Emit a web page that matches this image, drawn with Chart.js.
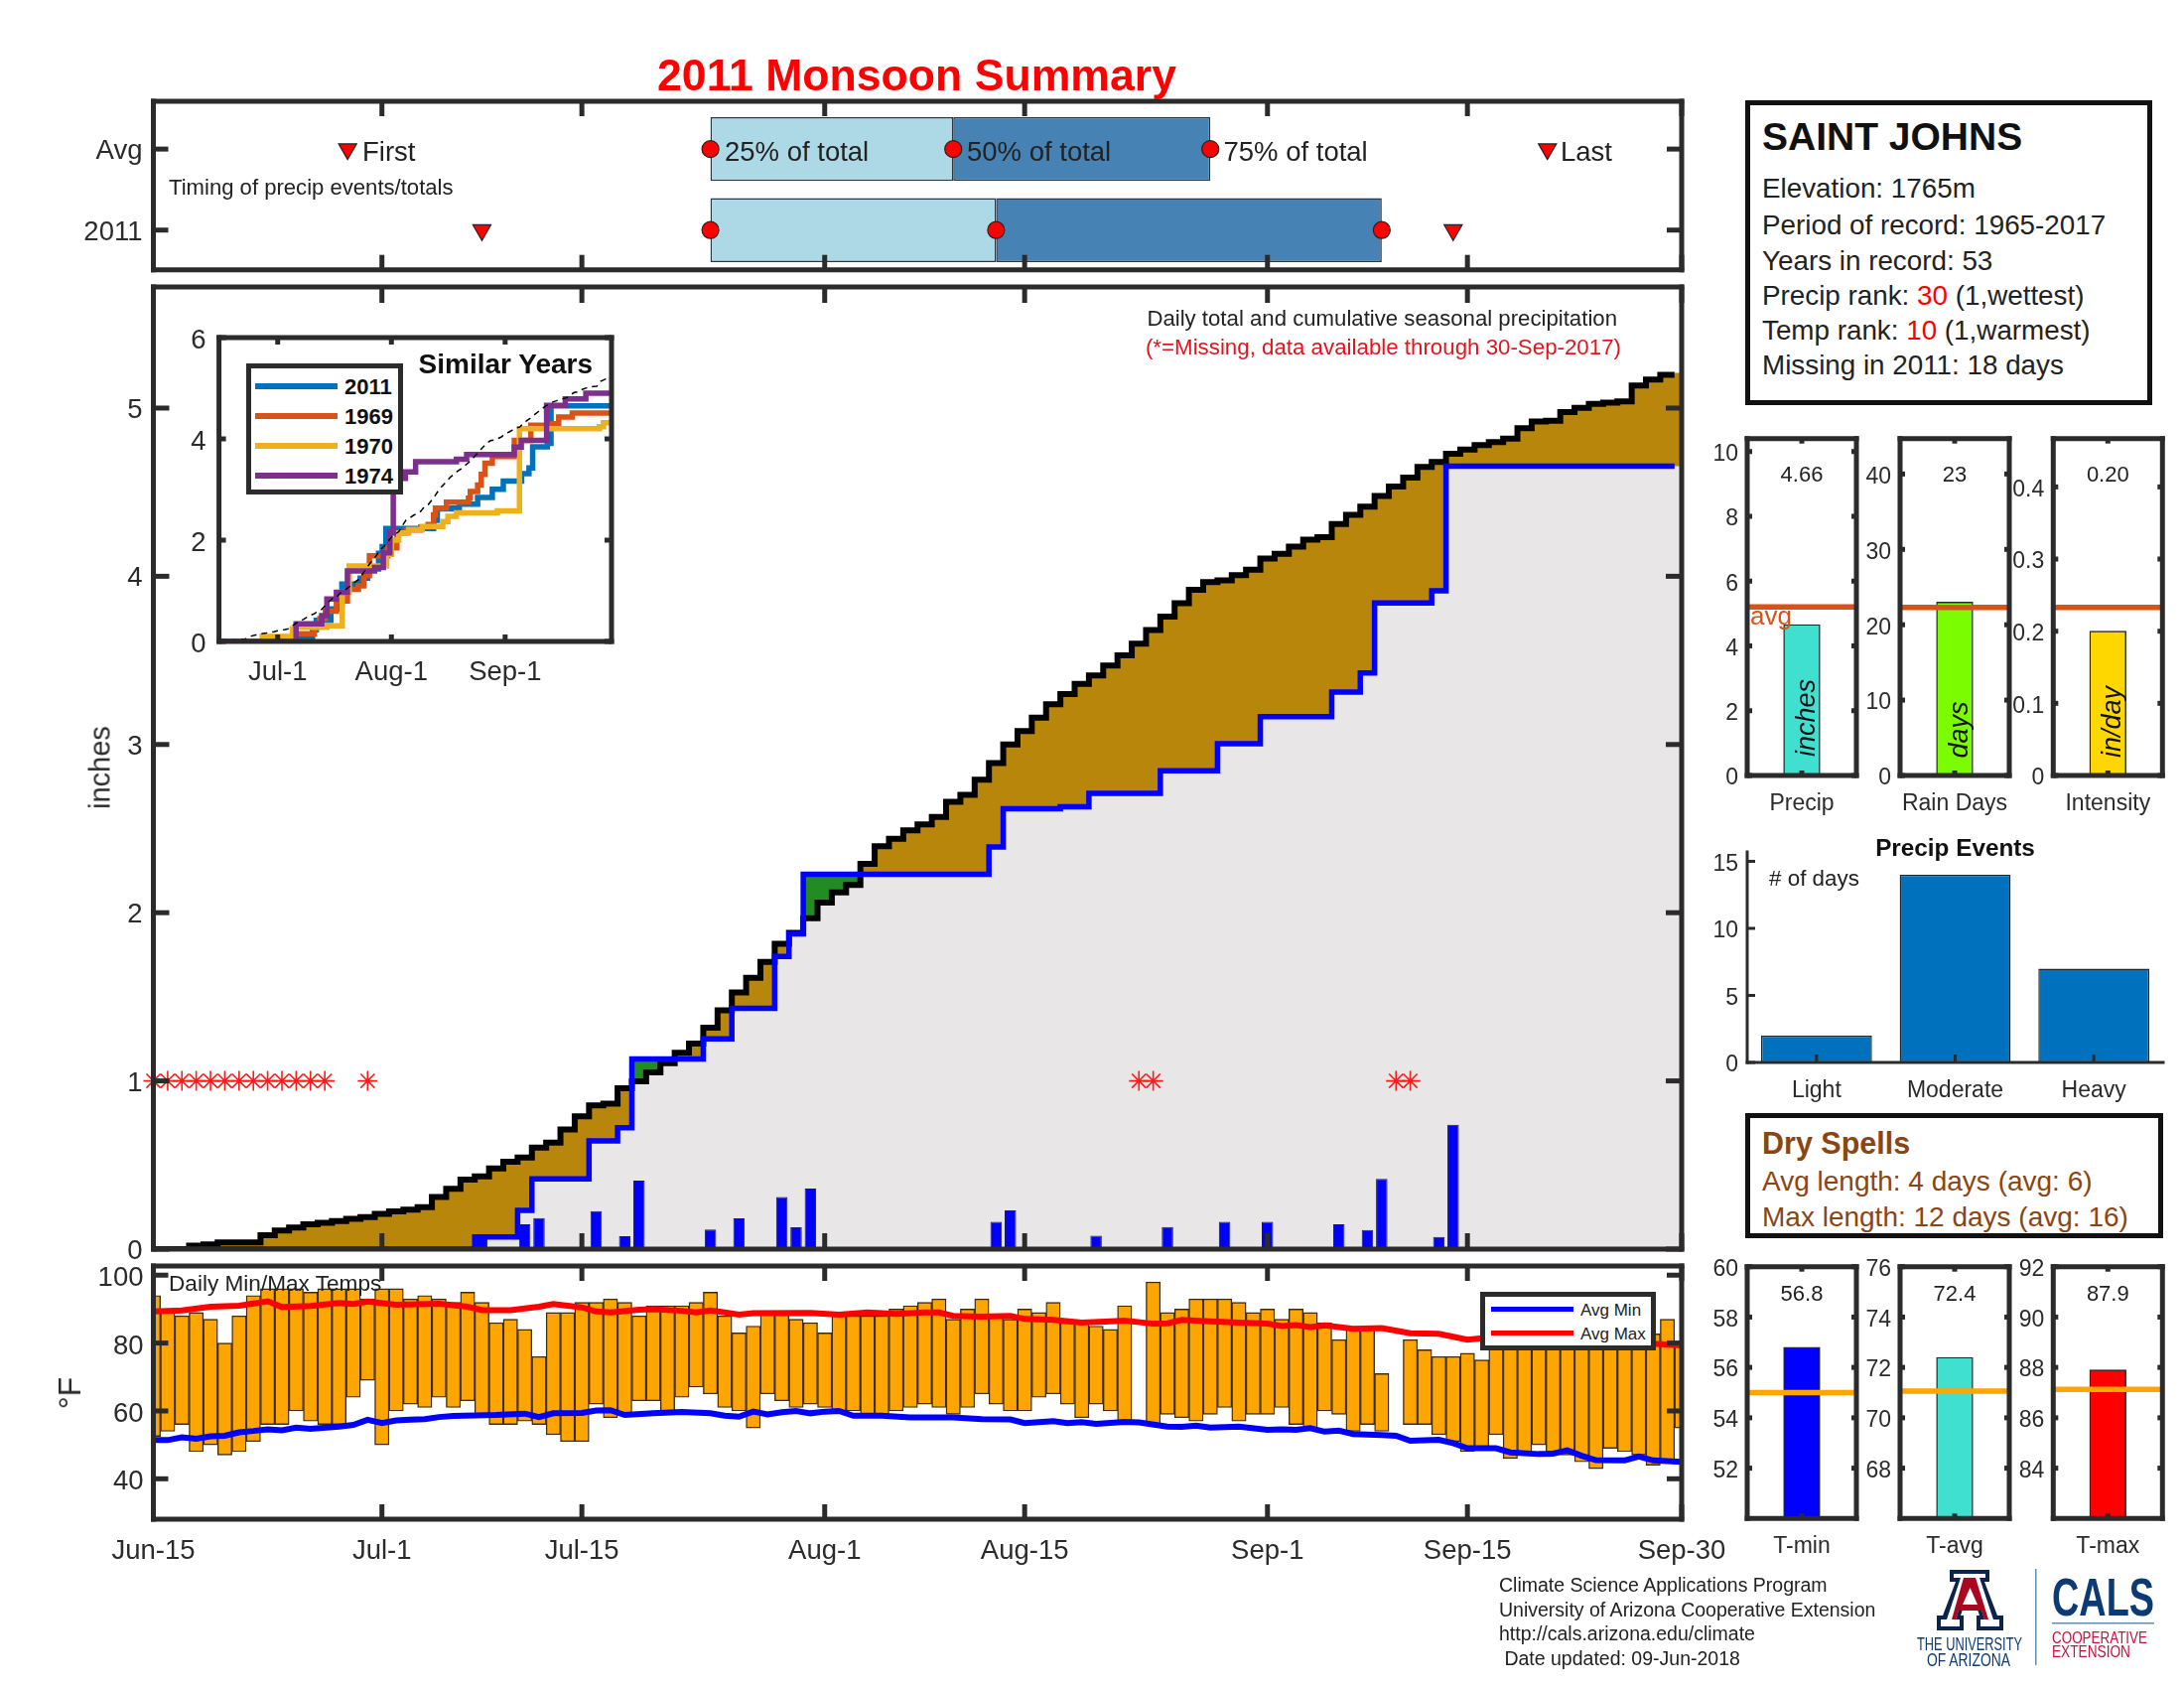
<!DOCTYPE html>
<html>
<head>
<meta charset="utf-8">
<title>2011 Monsoon Summary</title>
<script src="https://cdn.jsdelivr.net/npm/chart.js@4"></script>
<style>
  html, body { margin: 0; padding: 0; background: #fff; }
  #page { position: relative; width: 2200px; height: 1700px; overflow: hidden; font-family: "Liberation Sans", Arial, sans-serif; }
  #page canvas { position: absolute; left: 0; top: 0; }
  .txt { position: absolute; white-space: pre; line-height: 1; }
  .box { position: absolute; box-sizing: border-box; background: #fff; }
  .seg { position: absolute; }
</style>
</head>
<body>
<div id="page"></div>
<script>
// day number 0 = Jun-15, 107 = Sep-30
const tickDays = [0, 16, 30, 47, 61, 78, 92, 107];
const tickNames = ['Jun-15', 'Jul-1', 'Jul-15', 'Aug-1', 'Aug-15', 'Sep-1', 'Sep-15', 'Sep-30'];

// cumulative precip, one value per day
const cumAvg = [0, 0, 0, 0.02, 0.028, 0.04, 0.04, 0.04, 0.083, 0.11, 0.128, 0.147, 0.157, 0.167, 0.18, 0.19, 0.21, 0.224, 0.234, 0.25,
  0.31, 0.358, 0.413, 0.433, 0.48, 0.519, 0.545, 0.604, 0.633, 0.712, 0.79, 0.855, 0.865, 0.956, 0.997, 1.05, 1.105, 1.168, 1.222, 1.316,
  1.42, 1.526, 1.613, 1.707, 1.815, 1.88, 1.967, 2.06, 2.12, 2.165, 2.29, 2.395, 2.44, 2.49, 2.525, 2.57, 2.66, 2.7, 2.79, 2.89,
  3.0, 3.08, 3.16, 3.24, 3.3, 3.36, 3.41, 3.47, 3.53, 3.6, 3.68, 3.76, 3.84, 3.919, 3.965, 3.976, 4.007, 4.039, 4.106, 4.133,
  4.176, 4.218, 4.233, 4.31, 4.365, 4.414, 4.477, 4.534, 4.587, 4.65, 4.68, 4.728, 4.753, 4.78, 4.797, 4.818, 4.88, 4.92, 4.924, 4.976,
  5.002, 5.025, 5.033, 5.04, 5.134, 5.17, 5.198, 5.21];
const cum2011 = [0, 0, 0, 0, 0, 0, 0, 0, 0, 0, 0, 0, 0, 0, 0, 0, 0, 0, 0, 0,
  0, 0, 0, 0.073, 0.073, 0.073, 0.23, 0.417, 0.417, 0.417, 0.417, 0.643, 0.643, 0.722, 1.13, 1.13, 1.13, 1.13, 1.13, 1.25,
  1.25, 1.432, 1.432, 1.432, 1.74, 1.874, 2.228, 2.228, 2.228, 2.228, 2.228, 2.228, 2.228, 2.228, 2.228, 2.228, 2.228, 2.228, 2.228, 2.39,
  2.618, 2.618, 2.618, 2.618, 2.63, 2.63, 2.71, 2.71, 2.71, 2.71, 2.71, 2.844, 2.844, 2.844, 2.844, 3.004, 3.004, 3.004, 3.165, 3.165,
  3.165, 3.165, 3.165, 3.312, 3.312, 3.425, 3.842, 3.842, 3.842, 3.842, 3.914, 4.654, 4.654, 4.654, 4.654, 4.654, 4.654, 4.654, 4.654, 4.654,
  4.654, 4.654, 4.654, 4.654, 4.654, 4.654, 4.654, 4.654];

// daily precip
const rainDays = [23, 26, 27, 31, 33, 34, 39, 41, 44, 45, 46, 59, 60, 66, 71, 75, 78, 83, 85, 86, 90, 91];
const rainVals = [0.075, 0.147, 0.185, 0.226, 0.077, 0.407, 0.116, 0.183, 0.31, 0.13, 0.36, 0.163, 0.23, 0.08, 0.132, 0.163, 0.163, 0.147, 0.113, 0.417, 0.072, 0.74];
const missingDays = [0, 1, 2, 3, 4, 5, 6, 7, 8, 9, 10, 11, 12, 15, 69, 70, 87, 88];
const missingLevel = 1;

// daily temps
const tempMax = [94, 90, 88, 89, 87, 80, 88, 94, 96, 96, 96, 95, 96, 96, 96, 93, 96, 96, 93, 94,
  93, 92, 95, 92, 86, 87, 84, 76, 89, 89, 92, 92, 93, 92, 88, 91, 91, 91, 92, 95,
  88, 83, 85, 89, 89, 87, 86, 83, 88, 88, 88, 88, 90, 91, 92, 93, 87, 90, 93, 88,
  87, 90, 89, 92, 86, 86, 85, 84, 91, null, 98, 89, 90, 93, 93, 93, 92, 89, 90, 87,
  90, 89, 86, 81, 84, 84, 71, null, 81, 78, 76, 76, 77, 75, 80, 80, 80, 80, 80, 80,
  80, 80, 80, 80, 80, 82.7, 87, 80];
const tempMin = [52.5, 54, 56, 48, 50, 47, 48, 51, 56, 56, 60, 57, 56, 56, 64, 69, 50, 60, 62, 61,
  64, 61, 63, 59, 56, 56, 57, 56, 53, 51, 51, 62, 58, 59, 63, 63, 60, 64, 67, 65,
  61, 60, 55, 65, 63, 61, 62, 61, 60, 60, 59, 59, 60, 61, 62, 61, 59, 61, 65, 62,
  60, 60, 64, 65, 62, 58, 62, 60, 57, null, 56, 59, 58, 57, 59, 61, 57, 59, 59, 61,
  56, 55, 60, 59, 54, 56, 54, null, 56, 56, 53, 51, 48, 49, 53, 46, 48, 50, 48, 47,
  45, 43, 49, 48, 47, 44, 45, 55];
const avgMaxDays = [0, 2, 4, 6, 8, 9, 11, 13, 14, 15, 17, 20, 22, 23, 25, 27, 28, 30, 31, 32, 34, 35, 37, 38, 39, 40, 41, 42, 46, 48, 50, 52, 54, 55, 56, 58, 60, 61, 63, 65, 67, 68, 70, 71, 72, 74, 76, 78, 79, 80, 81, 82, 84, 86, 88, 90, 92, 93, 96, 100, 105, 107];
const avgMaxVals = [89.3, 89.6, 90.7, 91, 92.3, 90.6, 90.9, 91.8, 91.5, 92.2, 91.3, 91.6, 90.7, 89.7, 89.7, 90.7, 91.5, 90.5, 89.3, 89, 89.8, 90, 89.5, 89, 89.6, 89, 88.4, 88.8, 88.9, 88.4, 89, 88.6, 89, 89, 88, 87.8, 88, 87.1, 86.8, 86, 86.4, 86.6, 85.7, 85.8, 86.8, 86.4, 86, 85.7, 85, 85.3, 84.7, 85.2, 84.2, 84.4, 82.9, 82.7, 81, 81.4, 80.5, 80, 79.8, 79.3];
const avgMinDays = [0, 1, 2, 3, 4, 5, 6, 7, 8, 9, 10, 11, 13, 14, 15, 16, 17, 18, 19, 20, 21, 24, 26, 27, 28, 30, 31, 32, 33, 35, 37, 39, 40, 41, 42, 43, 44, 45, 46, 47, 48, 49, 51, 53, 56, 58, 60, 61, 63, 64, 65, 66, 68, 69, 71, 72, 73, 74, 76, 78, 79, 80, 81, 82, 83, 84, 86, 87, 88, 90, 91, 92, 94, 95, 97, 98, 99, 100, 101, 103, 104, 105, 107];
const avgMinVals = [51.4, 51.4, 52.2, 51.8, 52.5, 52.7, 53.7, 54.1, 54.6, 54.3, 55.1, 54.7, 55.4, 55.9, 57.4, 56.4, 57.2, 57.4, 57.6, 58.2, 58.5, 58.8, 59.2, 58.2, 59.3, 59.4, 60.1, 60.2, 58.8, 59.3, 59.7, 59.3, 58.6, 58.3, 59.8, 59, 59.6, 60, 59.3, 59.8, 60, 58.6, 58.6, 58.1, 58.1, 57.6, 57.5, 56.4, 57, 56.4, 56.7, 56.2, 56.8, 56.6, 55.4, 55.3, 55.7, 55.1, 55.4, 54.4, 54.6, 54.4, 54.9, 53.9, 54.2, 53.2, 52.9, 52.7, 51.2, 51.5, 50.5, 49, 49, 47.8, 47.3, 47.4, 48.4, 46.8, 45.5, 45.4, 46.6, 45.4, 45];

// timing strip
const timingRows = [2, 1];
const timingNames = ['2011', 'Avg'];
const firstDays = [13.6, 23];
const q25Days = [39, 39];
const q50Days = [56, 59];
const q75Days = [74, 86];
const lastDays = [97.6, 91];

// similar years, day the total changes and the new total
const y1969Days = [21, 26, 27.5, 29, 32, 35, 38, 39.5, 41, 46, 48.5, 51, 55, 57, 58.5, 59, 62, 68, 68.5, 70.5, 71.5, 72.5, 74.5, 80.5, 85, 91, 92.6, 96.3, 107];
const y1969Vals = [0.15, 0.3, 0.45, 0.6, 0.8, 1.03, 1.1, 1.3, 1.69, 1.85, 2.14, 2.2, 2.26, 2.31, 2.5, 2.63, 2.75, 2.83, 2.96, 3.09, 3.3, 3.52, 3.65, 3.97, 4.27, 4.3, 4.43, 4.51, 4.51];
const y1970Days = [11.8, 20, 21, 29.4, 33.6, 35.5, 45.7, 47, 49, 51.7, 55.4, 61, 62.4, 64.7, 75.9, 81.9, 103.7, 104.8, 107];
const y1970Vals = [0.1, 0.25, 0.28, 0.31, 0.97, 1.49, 1.72, 2, 2.14, 2.21, 2.27, 2.37, 2.47, 2.54, 2.58, 4.2, 4.24, 4.32, 4.32];
const y1974Days = [21, 28, 29.4, 32, 35, 42.4, 44.8, 46.6, 47.5, 48, 50.8, 53.6, 64.7, 67.5, 80.5, 82.4, 89.3, 94.4, 100, 107];
const y1974Vals = [0.35, 0.51, 0.84, 0.97, 1.39, 1.46, 1.75, 2.14, 2.99, 3.22, 3.35, 3.55, 3.6, 3.69, 3.84, 3.97, 4.66, 4.79, 4.9, 4.9];

// summary bars
const precipTotal = 4.66, precipAvg = 5.2;
const rainDayTotal = 23, rainDayAvg = 22.3;
const intensity = 0.2, intensityAvg = 0.233;
const eventNames = ['Light', 'Moderate', 'Heavy'];
const eventCounts = [2, 14, 7];
const tMin = 56.8, tMinAvg = 55;
const tAvg = 72.4, tAvgAvg = 71.06;
const tMaxVal = 87.9, tMaxAvg = 87.13;

const W = 2200, H = 1700, FONT = '"Liberation Sans", Arial, sans-serif', AXIS = 100;
const INK = '#2b2b2b';
const page = document.getElementById('page');

// draws the boxed axes with the ticks pointing inward, after the data
Chart.register({
  id: 'frame',
  afterDraw(chart, args, opts) {
    const { ctx, chartArea: a, scales } = chart;
    const sides = opts.sides || 'ltrb';
    ctx.save();
    ctx.strokeStyle = INK;
    ctx.lineWidth = opts.lw;
    const line = (x0, y0, x1, y1) => { ctx.beginPath(); ctx.moveTo(x0, y0); ctx.lineTo(x1, y1); ctx.stroke(); };
    scales.x.ticks.forEach((t, i) => {
      if (scales.x.type === 'category' && !t.label) return;
      const px = scales.x.getPixelForTick(i);
      if (sides.includes('b')) line(px, a.bottom, px, a.bottom - opts.len);
      if (sides.includes('t')) line(px, a.top, px, a.top + opts.len);
    });
    scales.y.ticks.forEach((t, i) => {
      const py = scales.y.getPixelForTick(i);
      if (sides.includes('l')) line(a.left, py, a.left + opts.len, py);
      if (sides.includes('r')) line(a.right, py, a.right - opts.len, py);
    });
    const h = opts.lw / 2;
    ctx.lineCap = 'butt';
    if (sides.includes('l')) line(a.left, a.top - h, a.left, a.bottom + h);
    if (sides.includes('r')) line(a.right, a.top - h, a.right, a.bottom + h);
    if (sides.includes('t')) line(a.left - h, a.top, a.right + h, a.top);
    if (sides.includes('b')) line(a.left - h, a.bottom, a.right + h, a.bottom);
    ctx.restore();
  }
});

function linearAxis(min, max, ticks, size, pad, names, labelOffset = 0) {
  return {
    type: 'linear', min, max, offset: false,
    grid: { display: false, drawTicks: false }, border: { display: false },
    ticks: {
      color: INK, padding: pad, autoSkip: false, maxRotation: 0, labelOffset, font: { family: FONT, size },
      callback: (v, i) => names ? names[i] : String(v)
    },
    afterBuildTicks(s) { s.ticks = ticks.map(v => ({ value: v })); },
    afterFit: fixAxis
  };
}
function categoryAxis(size, pad) {
  return {
    type: 'category', offset: true,
    grid: { display: false, drawTicks: false }, border: { display: false },
    ticks: { color: INK, padding: pad, autoSkip: false, maxRotation: 0, font: { family: FONT, size } },
    afterFit: fixAxis
  };
}
function fixAxis(s) {
  if (s.isHorizontal()) s.height = AXIS; else s.width = AXIS;
  s.paddingLeft = s.paddingRight = s.paddingTop = s.paddingBottom = 0;
}

function addChart(box, labels, datasets, scales, frame) {
  const canvas = document.createElement('canvas');
  canvas.width = W;
  canvas.height = H;
  canvas.style.width = W + 'px';
  canvas.style.height = H + 'px';
  page.appendChild(canvas);
  return new Chart(canvas, {
    type: 'bar',
    data: { labels, datasets },
    options: {
      responsive: false, animation: false, devicePixelRatio: 1,
      layout: { padding: { left: box.left - AXIS, top: box.top, right: W - box.right, bottom: H - box.bottom - AXIS } },
      plugins: { legend: { display: false }, tooltip: { enabled: false }, frame },
      scales
    }
  });
}

function addText(text, x, y, o = {}) {
  const el = document.createElement('div');
  el.className = 'txt';
  el.innerHTML = text;
  const shift = { left: '0', center: '-50%', right: '-100%' }[o.anchor || 'left'];
  el.style.cssText += `left:${x}px;top:${y}px;font-size:${o.size || 22}px;color:${o.color || '#222'};`
    + `font-weight:${o.bold ? 'bold' : 'normal'};font-style:${o.italic ? 'italic' : 'normal'};`
    + `transform:translate(${shift},-50%)${o.rotate ? ` rotate(${o.rotate}deg)` : ''};`;
  page.appendChild(el);
}
function addBox(x0, y0, x1, y1, lw, color) {
  const el = document.createElement('div');
  el.className = 'box';
  el.style.cssText += `left:${x0}px;top:${y0}px;width:${x1 - x0}px;height:${y1 - y0}px;border:${lw}px solid ${color};`;
  page.appendChild(el);
}
function addSeg(x0, x1, y, lw, color) {
  const el = document.createElement('div');
  el.className = 'seg';
  el.style.cssText = `left:${x0}px;top:${y - lw / 2}px;width:${x1 - x0}px;height:${lw}px;background:${color};`;
  page.appendChild(el);
}

const xy = (xs, ys) => xs.map((x, i) => ({ x, y: ys[i] }));
const perDay = ys => ys.map((y, x) => ({ x, y }));
// the stair lines stop half a day short of the axis end
const stairLine = ys => perDay(ys.slice(0, 107)).concat({ x: 106.5, y: ys[106] });
const barEdge = { borderSkipped: false, grouped: false };

// timing strip
const leftEdge = 154.5, rightEdge = 1694;
addChart({ left: leftEdge, right: rightEdge, top: 102, bottom: 271.7 }, [], [
  { type: 'line', showLine: false, data: xy(firstDays.concat(lastDays), timingRows.concat(timingRows)), pointStyle: 'triangle', rotation: 180, radius: 10.5, backgroundColor: '#ff0000', borderColor: '#222', borderWidth: 1.2 },
  { type: 'line', showLine: false, data: xy(q25Days.concat(q50Days, q75Days), timingRows.concat(timingRows, timingRows)), pointStyle: 'circle', radius: 8.5, backgroundColor: '#ff0000', borderColor: '#222', borderWidth: 1.2 },
  { type: 'bar', indexAxis: 'y', ...barEdge, barPercentage: 0.79, categoryPercentage: 1, data: timingRows.map((y, i) => ({ y, x: [q25Days[i], q50Days[i]] })), backgroundColor: '#ADD8E6', borderColor: '#26394a', borderWidth: 1.5 },
  { type: 'bar', indexAxis: 'y', ...barEdge, barPercentage: 0.79, categoryPercentage: 1, data: timingRows.map((y, i) => ({ y, x: [q50Days[i], q75Days[i]] })), backgroundColor: '#4682B4', borderColor: '#26394a', borderWidth: 1.5 }
], {
  x: linearAxis(0, 107, tickDays, 26, 10, tickDays.map(() => '')),
  y: linearAxis(0.51, 2.59, [1, 2], 27.5, 11, timingNames, 2.5)
}, { lw: 5, len: 15 });

// main precip panel
addChart({ left: leftEdge, right: rightEdge, top: 289, bottom: 1258 }, [], [
  { type: 'line', showLine: false, data: missingDays.map(x => ({ x, y: missingLevel })), pointStyle: 'star', radius: 10, borderColor: '#ff1a1a', borderWidth: 1.6, backgroundColor: '#ff1a1a', clip: false },
  { type: 'line', stepped: 'middle', data: stairLine(cum2011), borderColor: '#0000ff', borderWidth: 5.5, pointRadius: 0, fill: false },
  { type: 'line', stepped: 'middle', data: stairLine(cumAvg), borderColor: '#000', borderWidth: 6, pointRadius: 0, fill: false },
  { type: 'bar', ...barEdge, data: xy(rainDays, rainVals), barPercentage: 0.8, categoryPercentage: 1, backgroundColor: '#0000ff', borderColor: '#1c1c50', borderWidth: 1 },
  { type: 'line', stepped: 'middle', data: perDay(cumAvg), borderWidth: 0, pointRadius: 0, fill: { target: 5, above: '#B8860B', below: '#228B22' } },
  { type: 'line', stepped: 'middle', data: perDay(cum2011), borderWidth: 0, pointRadius: 0, fill: 'origin', backgroundColor: '#E8E6E6' }
], {
  x: linearAxis(0, 107, tickDays, 26, 10, tickDays.map(() => '')),
  y: linearAxis(0, 5.72, [0, 1, 2, 3, 4, 5], 27.5, 11, null, 2.5)
}, { lw: 5, len: 16 });

// similar years inset
addChart({ left: 220.6, right: 616, top: 340, bottom: 646 }, [], [
  { type: 'line', data: perDay(cumAvg), borderColor: '#000', borderWidth: 1.5, borderDash: [6, 5], pointRadius: 0 },
  { type: 'line', stepped: true, data: [{ x: 0, y: 0 }].concat(xy(y1974Days, y1974Vals)), borderColor: '#7E2F8E', borderWidth: 5.5, pointRadius: 0 },
  { type: 'line', stepped: true, data: [{ x: 0, y: 0 }].concat(xy(y1970Days, y1970Vals)), borderColor: '#EDB120', borderWidth: 5.5, pointRadius: 0 },
  { type: 'line', stepped: true, data: [{ x: 0, y: 0 }].concat(xy(y1969Days, y1969Vals)), borderColor: '#D95319', borderWidth: 5.5, pointRadius: 0 },
  { type: 'line', stepped: 'middle', data: perDay(cum2011), borderColor: '#0072BD', borderWidth: 5.5, pointRadius: 0 }
], {
  x: linearAxis(0, 107, [16, 47, 78], 27.5, 15, ['Jul-1', 'Aug-1', 'Sep-1']),
  y: linearAxis(0, 6, [0, 2, 4, 6], 27.5, 13, null, 3)
}, { lw: 5, len: 7 });

// daily temperature panel
const tempBars = tempMax.map((hi, x) => ({ x, y: [tempMin[x], hi] })).filter(b => b.y[1] !== null);
addChart({ left: leftEdge, right: rightEdge, top: 1275, bottom: 1530 }, [], [
  { type: 'line', data: xy(avgMaxDays, avgMaxVals), borderColor: '#ff0000', borderWidth: 6, pointRadius: 0 },
  { type: 'line', data: xy(avgMinDays, avgMinVals), borderColor: '#0000ff', borderWidth: 6, pointRadius: 0 },
  { type: 'bar', ...barEdge, data: tempBars, barPercentage: 1, categoryPercentage: 1, backgroundColor: '#FFA500', borderColor: '#3d2d10', borderWidth: 1.4 }
], {
  x: linearAxis(0, 107, tickDays, 27.5, 16, tickNames),
  y: linearAxis(28.1, 102.7, [40, 60, 80, 100], 27.5, 10, null, 3.5)
}, { lw: 5, len: 15 });

// small summary panels
function summaryPanel(left, top, bottom, label, value, average, color, lineColor, yMin, yMax, ticks, names) {
  addChart({ left, right: left + 110, top, bottom }, ['', label, ''], [
    { type: 'line', xAxisID: 'x2', data: [{ x: 0, y: average }, { x: 1, y: average }], borderColor: lineColor, borderWidth: 5.5, pointRadius: 0 },
    { type: 'bar', ...barEdge, data: [null, value, null], barPercentage: 1, categoryPercentage: 1, backgroundColor: color, borderColor: '#26262b', borderWidth: 1.4 }
  ], {
    x: categoryAxis(23, 15),
    x2: { type: 'linear', display: false, offset: false, min: 0, max: 1 },
    y: linearAxis(yMin, yMax, ticks, 23, 9, names, 3)
  }, { lw: 5, len: 5 });
}
const panelX = [1760, 1914, 2068.3];
const orangeRed = '#D95319', amber = '#FFA500';
summaryPanel(panelX[0], 441.7, 781, 'Precip', precipTotal, precipAvg, '#40E0D0', orangeRed, 0, 10.4, [0, 2, 4, 6, 8, 10]);
summaryPanel(panelX[1], 441.7, 781, 'Rain Days', rainDayTotal, rainDayAvg, '#7CFC00', orangeRed, 0, 44.7, [0, 10, 20, 30, 40]);
summaryPanel(panelX[2], 441.7, 781, 'Intensity', intensity, intensityAvg, '#FFD700', orangeRed, 0, 0.467, [0, 0.1, 0.2, 0.3, 0.4], ['0', '0.1', '0.2', '0.3', '0.4']);
summaryPanel(panelX[0], 1275.7, 1529.3, 'T-min', tMin, tMinAvg, '#0000ff', amber, 50, 60, [52, 54, 56, 58, 60]);
summaryPanel(panelX[1], 1275.7, 1529.3, 'T-avg', tAvg, tAvgAvg, '#40E0D0', amber, 66, 76, [68, 70, 72, 74, 76]);
summaryPanel(panelX[2], 1275.7, 1529.3, 'T-max', tMaxVal, tMaxAvg, '#ff0000', amber, 82, 92, [84, 86, 88, 90, 92]);

// precip events
addChart({ left: 1760, right: 2179, top: 858, bottom: 1070 }, eventNames, [
  { type: 'bar', ...barEdge, data: eventCounts, barPercentage: 0.8, categoryPercentage: 1, backgroundColor: '#0072BD', borderColor: '#1c2a33', borderWidth: 1.4 }
], {
  x: categoryAxis(23, 15),
  y: linearAxis(0, 15.7, [0, 5, 10, 15], 23, 9, null, 3)
}, { lw: 3, len: 8, sides: 'lb' });

// text over the panels
addText('2011 Monsoon Summary', 923.5, 76, { size: 44.6, bold: true, color: '#ff0000', anchor: 'center' });
addText('First', 365, 153, { size: 27.5 });
addText('25% of total', 730, 153, { size: 27.5 });
addText('50% of total', 974, 153, { size: 27.5 });
addText('75% of total', 1232.5, 153, { size: 27.5 });
addText('Last', 1572, 153, { size: 27.5 });
addText('Timing of precip events/totals', 170, 189, { size: 22.1 });
addText('Daily total and cumulative seasonal precipitation', 1629, 321, { size: 22.2, anchor: 'right' });
addText('(*=Missing, data available through 30-Sep-2017)', 1633, 350, { size: 22.3, color: '#e3141c', anchor: 'right' });
addText('inches', 101, 773, { size: 29, anchor: 'center', rotate: -90, color: INK });
addText('°F', 70, 1403, { size: 32, anchor: 'center', rotate: -90, color: INK });
addText('Daily Min/Max Temps', 170, 1293, { size: 22.6 });
addText('Similar Years', 597, 367, { size: 28, bold: true, anchor: 'right', color: '#111' });

// similar years legend
addBox(248, 366, 405.5, 498, 5, INK);
[['2011', '#0072BD', 389], ['1969', '#D95319', 419], ['1970', '#EDB120', 449], ['1974', '#7E2F8E', 479]].forEach(([name, color, y]) => {
  addSeg(257, 340, y, 5.5, color);
  addText(name, 347, y + 1, { size: 22, bold: true, color: '#111' });
});

// avg temp legend
addBox(1490.7, 1300.7, 1668, 1360, 5, INK);
addSeg(1501.7, 1585, 1318, 5, '#0000ff');
addSeg(1501.7, 1585, 1342, 5, '#ff0000');
addText('Avg Min', 1592, 1319, { size: 17 });
addText('Avg Max', 1592, 1343, { size: 17 });

// values and units in the small panels
const valueX = panelX.map(x => x + 55);
addText('4.66', valueX[0], 478, { anchor: 'center' });
addText('23', valueX[1], 478, { anchor: 'center' });
addText('0.20', valueX[2], 478, { anchor: 'center' });
addText('56.8', valueX[0], 1303, { anchor: 'center' });
addText('72.4', valueX[1], 1303, { anchor: 'center' });
addText('87.9', valueX[2], 1303, { anchor: 'center' });
addText('avg', 1763, 620, { size: 26, color: orangeRed });
[['inches', 0, 723], ['days', 1, 735], ['in/day', 2, 727]].forEach(([unit, i, y]) => {
  addText(unit, valueX[i] + 4, y, { size: 27, italic: true, anchor: 'center', rotate: -90, color: '#111' });
});
addText('Precip Events', 1969.5, 854, { size: 24.3, bold: true, anchor: 'center', color: '#111' });
addText('# of days', 1782, 885, { size: 22.4 });

// station box
addBox(1758, 101, 2168, 408, 5, '#111');
addText('SAINT JOHNS', 1775, 137, { size: 39, bold: true, color: '#111' });
addText('Elevation: 1765m', 1775, 190, { size: 27.8 });
addText('Period of record: 1965-2017', 1775, 227, { size: 27.8 });
addText('Years in record: 53', 1775, 263, { size: 27.8 });
addText('Precip rank: <span style="color:#ff0000">30</span> (1,wettest)', 1775, 298, { size: 27.8 });
addText('Temp rank: <span style="color:#ff0000">10</span> (1,warmest)', 1775, 333, { size: 27.8 });
addText('Missing in 2011: 18 days', 1775, 368, { size: 27.8 });

// dry spells box
addBox(1758, 1121, 2179, 1247, 5, '#111');
addText('Dry Spells', 1775, 1151, { size: 30.5, bold: true, color: '#8B4513' });
addText('Avg length: 4 days (avg: 6)', 1775, 1190, { size: 28, color: '#8B4513' });
addText('Max length: 12 days (avg: 16)', 1775, 1226, { size: 28, color: '#8B4513' });

// footer
addText('Climate Science Applications Program', 1510, 1597, { size: 19.5 });
addText('University of Arizona Cooperative Extension', 1510, 1622, { size: 19.5 });
addText('http://cals.arizona.edu/climate', 1510, 1646, { size: 19.5 });
addText(' Date updated: 09-Jun-2018', 1510, 1671, { size: 19.5 });

// logos
const logo = document.createElement('div');
logo.innerHTML = `<svg xmlns="http://www.w3.org/2000/svg" width="${W}" height="${H}" style="position:absolute;left:0;top:0">
  <polygon fill="#0C234B" points="1964,1581 2004,1581 2004,1593 1999,1593 2012,1627 2018,1627 2018,1642 1991,1642 1991,1627 1994,1627 1992,1621 1977,1621 1975,1627 1978,1627 1978,1642 1951,1642 1951,1627 1957,1627 1970,1593 1964,1593"/>
  <polygon fill="#fff" points="1968,1585 2000,1585 2000,1589 1994,1589 2008,1631 2014,1631 2014,1638 1995,1638 1995,1631 1999,1631 1995,1618 1974,1618 1970,1631 1974,1631 1974,1638 1955,1638 1955,1631 1961,1631 1975,1589 1968,1589"/>
  <path fill="#AB0520" fill-rule="evenodd" d="M1978 1589 H1990 L2003 1631 H1999 L1996 1622 H1973 L1970 1631 H1966 Z M1984.5 1599 L1977 1616 H1992 Z"/>
  <text x="1931" y="1662" font-family="Liberation Sans Narrow, Liberation Sans" font-size="18" fill="#0C3A75" textLength="106" lengthAdjust="spacingAndGlyphs">THE UNIVERSITY</text>
  <text x="1941" y="1678" font-family="Liberation Sans Narrow, Liberation Sans" font-size="18" fill="#0C3A75" textLength="84" lengthAdjust="spacingAndGlyphs">OF ARIZONA</text>
  <rect x="2050" y="1580" width="1.5" height="97" fill="#5f8fb5"/>
  <text x="2067" y="1627" font-family="Liberation Sans Narrow, Liberation Sans" font-weight="bold" font-size="54" fill="#0C3A75" textLength="103" lengthAdjust="spacingAndGlyphs">CALS</text>
  <rect x="2067" y="1634" width="103" height="1.5" fill="#5f8fb5"/>
  <text x="2067" y="1655" font-family="Liberation Sans Narrow, Liberation Sans" font-size="17" fill="#C4123F" textLength="96" lengthAdjust="spacingAndGlyphs">COOPERATIVE</text>
  <text x="2067" y="1669" font-family="Liberation Sans Narrow, Liberation Sans" font-size="17" fill="#C4123F" textLength="79" lengthAdjust="spacingAndGlyphs">EXTENSION</text>
</svg>`;
page.appendChild(logo);
</script>
</body>
</html>
